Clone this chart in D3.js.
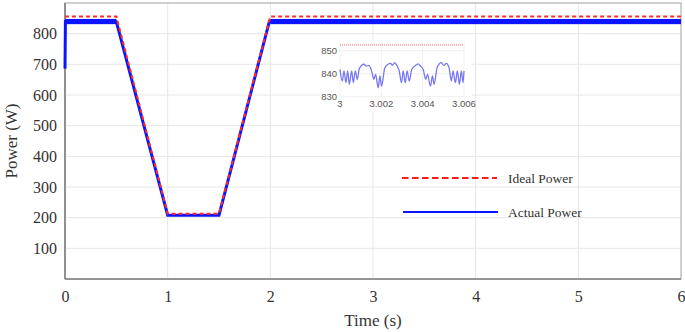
<!DOCTYPE html>
<html><head><meta charset="utf-8">
<script src="https://cdn.jsdelivr.net/npm/d3@7"></script>
<style>body{margin:0;background:#fff}svg{display:block}</style>
</head><body>
<svg id="c" width="685" height="332"></svg>
<script>
// ---- data ----
const xTicks = [0, 1, 2, 3, 4, 5, 6];
const yTicks = [100, 200, 300, 400, 500, 600, 700, 800];
const idealTime  = [0, 0.5, 1.0, 1.5, 2.0, 6.0];
const idealPower = [856, 856, 213, 213, 856, 856];
const actualTime  = [0, 0.004, 0.5, 1.0, 1.5, 1.99, 6.0];
const actualPower = [686, 839, 839, 208, 208, 839, 839];
// ripple band of actual power (steady-state oscillation envelope)
const bandStart = [0.0, 2.0];
const bandEnd   = [0.5, 6.0];
const bandLow   = [831, 831];
const bandHigh  = [848, 848];
// inset: zoom 3.000 s - 3.006 s (time offsets in ms)
const insetXTicks = [3, 3.002, 3.004, 3.006];
const insetXLabels = ["3", "3.002", "3.004", "3.006"];
const insetYTicks = [830, 840, 850];
const insetIdeal = 852.5;
const insetOffsetMs = [0.000,0.113,0.193,0.290,0.370,0.450,0.563,0.644,0.740,0.837,0.933,1.158,1.287,1.400,1.528,1.641,1.722,1.850,1.931,2.011,2.172,2.446,2.542,2.639,2.767,2.864,2.977,3.057,3.154,3.250,3.347,3.475,3.620,3.781,3.894,4.022,4.151,4.232,4.376,4.473,4.553,4.698,4.907,5.020,5.148,5.277,5.390,5.470,5.583,5.679,5.776,5.872,5.953,6.000];
const insetPower = [841.9,836.8,841.2,836.1,841.2,835.4,841.2,836.1,841.2,837.5,842.2,844.1,843.3,843.6,841.2,837.5,839.7,833.9,839.0,834.6,842.6,844.5,843.6,844.8,843.3,841.2,836.1,841.2,836.1,841.2,836.8,841.9,843.3,844.3,843.3,841.9,837.5,839.7,834.6,839.0,835.4,842.6,844.8,843.6,844.5,842.6,836.8,841.2,836.1,841.2,835.4,841.2,836.1,841.2];
const legendLabels = ["Ideal Power", "Actual Power"];

// ---- layout ----
const svg = d3.select("#c");
const L = 65, R = 681, T = 3, B = 279;
const x = d3.scaleLinear().domain([0, 6]).range([L, R]);
const y = d3.scaleLinear().domain([0, 900]).range([B, T]);
const serif = "'Liberation Serif','Times New Roman',serif";
const sans = "'Liberation Sans',Arial,sans-serif";

// grid
svg.append("g").selectAll("line").data(xTicks.slice(1, -1)).join("line")
  .attr("x1", d => x(d)).attr("x2", d => x(d)).attr("y1", T).attr("y2", B)
  .attr("stroke", "#e6e6e6").attr("stroke-width", 1);
svg.append("g").selectAll("line").data(yTicks).join("line")
  .attr("x1", L).attr("x2", R).attr("y1", d => y(d)).attr("y2", d => y(d))
  .attr("stroke", "#e6e6e6").attr("stroke-width", 1);

// frame
svg.append("rect").attr("x", L).attr("y", T).attr("width", R - L).attr("height", B - T)
  .attr("fill", "none").attr("stroke", "#a0a0a0").attr("stroke-width", 1);
svg.append("line").attr("x1", L).attr("x2", R).attr("y1", B).attr("y2", B)
  .attr("stroke", "#808080").attr("stroke-width", 1.6);
svg.append("line").attr("x1", L).attr("x2", L).attr("y1", T).attr("y2", B)
  .attr("stroke", "#808080").attr("stroke-width", 1.6);

// axes labels via d3 axes
const xAxis = svg.append("g").attr("transform", `translate(0,${B})`)
  .call(d3.axisBottom(x).tickValues(xTicks).tickSize(0).tickPadding(12).tickFormat(d3.format("d")));
xAxis.select(".domain").remove();
xAxis.selectAll("text").attr("font-family", serif).attr("font-size", 16).attr("fill", "#333");
const yAxis = svg.append("g").attr("transform", `translate(${L},0)`)
  .call(d3.axisLeft(y).tickValues(yTicks).tickSize(0).tickPadding(8).tickFormat(d3.format("d")));
yAxis.select(".domain").remove();
yAxis.selectAll("text").attr("font-family", serif).attr("font-size", 16).attr("fill", "#333");

svg.append("text").attr("x", (L + R) / 2).attr("y", 326).attr("text-anchor", "middle")
  .attr("font-family", serif).attr("font-size", 17).attr("fill", "#333").text("Time (s)");
svg.append("text").attr("transform", "translate(17,141) rotate(-90)").attr("text-anchor", "middle")
  .attr("font-family", serif).attr("font-size", 17).attr("fill", "#333").text("Power (W)");

// actual power
const blue = "#0a14ff";
svg.append("g").selectAll("rect").data(bandStart).join("rect")
  .attr("x", (d, i) => x(d)).attr("width", (d, i) => x(bandEnd[i]) - x(d))
  .attr("y", (d, i) => y(bandHigh[i])).attr("height", (d, i) => y(bandLow[i]) - y(bandHigh[i]))
  .attr("fill", blue);
const lineA = d3.line().x(d => x(d[0])).y(d => y(d[1]));
svg.append("path").attr("d", lineA(actualTime.map((t, i) => [t, actualPower[i]])))
  .attr("fill", "none").attr("stroke", blue).attr("stroke-width", 3);

// ideal power
svg.append("path").attr("d", lineA(idealTime.map((t, i) => [t, idealPower[i]])))
  .attr("fill", "none").attr("stroke", "#ff2a2a").attr("stroke-width", 2)
  .attr("stroke-dasharray", "4,3");

// legend
const legY = [178, 212];
svg.append("line").attr("x1", 402).attr("x2", 497).attr("y1", legY[0]).attr("y2", legY[0])
  .attr("stroke", "#ff1a1a").attr("stroke-width", 2.2).attr("stroke-dasharray", "6.5,3.5");
svg.append("line").attr("x1", 403).attr("x2", 498).attr("y1", legY[1]).attr("y2", legY[1])
  .attr("stroke", blue).attr("stroke-width", 2.2);
svg.append("g").selectAll("text").data(legendLabels).join("text")
  .attr("x", 508).attr("y", (d, i) => legY[i] + 5)
  .attr("font-family", serif).attr("font-size", 13.5).attr("fill", "#333").text(d => d);

// inset
const ix = d3.scaleLinear().domain([3, 3.006]).range([340, 464]);
const iy = d3.scaleLinear().domain([830, 850]).range([96.7, 50.7]);
svg.append("rect").attr("x", 320).attr("y", 41).attr("width", 152).attr("height", 70).attr("fill", "#fff");
svg.append("g").selectAll("line").data(insetXTicks).join("line")
  .attr("x1", d => ix(d)).attr("x2", d => ix(d)).attr("y1", 42).attr("y2", 97)
  .attr("stroke", "#f0f0f0");
svg.append("g").selectAll("line").data(insetYTicks).join("line")
  .attr("x1", 340).attr("x2", 464).attr("y1", d => iy(d)).attr("y2", d => iy(d))
  .attr("stroke", "#f0f0f0");
svg.append("g").selectAll("text").data(insetYTicks).join("text")
  .attr("x", 337).attr("y", d => iy(d) + 3.5).attr("text-anchor", "end")
  .attr("font-family", sans).attr("font-size", 9.5).attr("fill", "#555").text(d => d);
svg.append("g").selectAll("text").data(insetXTicks).join("text")
  .attr("x", d => ix(d)).attr("y", 107).attr("text-anchor", "middle")
  .attr("font-family", sans).attr("font-size", 9.5).attr("fill", "#555").text((d, i) => insetXLabels[i]);
svg.append("line").attr("x1", ix(3)).attr("x2", ix(3.006)).attr("y1", iy(insetIdeal)).attr("y2", iy(insetIdeal))
  .attr("stroke", "#f07070").attr("stroke-width", 1).attr("stroke-dasharray", "1,1");
const lineI = d3.line().x(d => ix(d[0])).y(d => iy(d[1])).curve(d3.curveMonotoneX);
svg.append("path").attr("d", lineI(insetOffsetMs.map((t, i) => [3 + t / 1000, insetPower[i]])))
  .attr("fill", "none").attr("stroke", "#7878f0").attr("stroke-width", 1.3);
</script>
</body></html>
